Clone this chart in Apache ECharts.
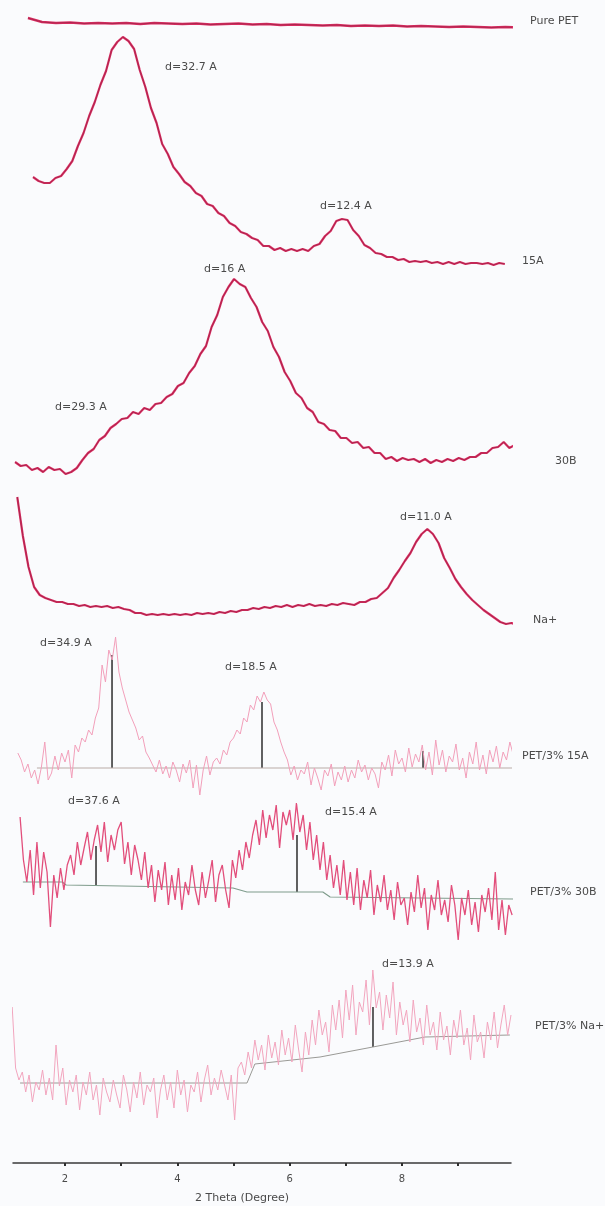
<!DOCTYPE html>
<html>
<head>
<meta charset="utf-8">
<script src="https://cdn.jsdelivr.net/npm/echarts@6/dist/echarts.min.js"></script>
<style>
html,body{margin:0;padding:0;background:#fafbfd;}
#chart{width:605px;height:1206px;}
</style>
</head>
<body>
<div id="chart"></div>
<script>
// ---- XRD scans: 2-theta start / step (degrees) and intensities (a.u.) ----
const pureStart = 1.34, pureStep = 0.25;
const purePET = [22, 18, 17, 17.5, 16.5, 17, 16.5, 17, 16, 17,
  16.5, 16, 16.5, 15.5, 16, 16.5, 15.5, 16, 15, 15.5,
  15, 14.5, 15, 14, 14.5, 14, 14.5, 13.5, 14, 13.5,
  13, 13.5, 13, 12.5, 13, 12.5];

const c15aStart = 1.43, c15aStep = 0.1;
const clay15A = [103, 99, 97, 97, 102, 104, 111, 119, 134, 147,
  164, 178, 195, 209, 230, 238, 243, 239, 231, 210,
  193, 172, 157, 136, 126, 113, 106, 98, 94, 87,
  84, 76, 74, 67, 64, 57, 54, 48, 46, 42,
  40, 34, 34, 30, 32, 29, 31, 29, 31, 29,
  34, 36, 44, 49, 59, 61, 60, 50, 44, 35,
  32, 27, 26, 23, 23, 20, 21, 18, 19, 18,
  19, 17, 18, 16, 18, 16, 18, 16, 17, 17,
  16, 17, 15, 17, 16];

const c30bStart = 1.11, c30bStep = 0.1;
const clay30B = [28, 24, 25, 20, 22, 18, 23, 20, 21, 16,
  18, 22, 30, 37, 41, 50, 54, 62, 66, 71,
  72, 78, 76, 82, 80, 86, 87, 93, 96, 104,
  107, 117, 124, 136, 144, 163, 175, 193, 203, 211,
  206, 203, 192, 183, 168, 159, 143, 133, 118, 109,
  97, 92, 82, 78, 68, 66, 60, 59, 52, 52,
  47, 48, 42, 43, 37, 37, 31, 33, 29, 32,
  30, 31, 28, 31, 27, 30, 28, 31, 29, 32,
  30, 33, 33, 37, 37, 42, 43, 48, 42, 45,
  38, 39, 34, 34, 31];

const cNaStart = 1.15, cNaStep = 0.1;
const clayNa = [143, 104, 73, 53, 45, 42, 40, 38, 38, 36,
  36, 34, 35, 33, 34, 33, 34, 32, 33, 31,
  30, 27, 27, 25, 26, 25, 26, 25, 26, 25,
  26, 25, 27, 26, 27, 26, 28, 27, 29, 28,
  30, 30, 32, 31, 33, 32, 34, 33, 35, 33,
  35, 34, 36, 34, 35, 34, 36, 35, 37, 36,
  35, 38, 38, 41, 42, 47, 52, 62, 70, 79,
  87, 98, 106, 111, 106, 97, 82, 72, 61, 53,
  46, 40, 35, 30, 26, 22, 18, 16, 17, 15];

const n15aStart = 1.16, n15aStep = 0.06;
const nano15A = [47, 40, 28, 36, 22, 30, 16, 33, 58, 20,
  27, 44, 30, 47, 38, 50, 22, 55, 48, 62,
  58, 70, 65, 82, 92, 135, 118, 150, 140, 163,
  128, 112, 100, 88, 80, 72, 60, 64, 48, 42,
  35, 28, 40, 26, 34, 22, 38, 30, 18, 36,
  27, 40, 12, 35, 5, 30, 44, 25, 38, 42,
  36, 50, 45, 58, 62, 70, 66, 82, 78, 95,
  90, 104, 98, 108, 100, 96, 78, 70, 58, 48,
  40, 25, 34, 20, 30, 26, 38, 15, 32, 22,
  10, 30, 24, 36, 14, 28, 20, 34, 18, 30,
  22, 40, 28, 35, 20, 32, 26, 12, 38, 30,
  45, 24, 50, 36, 42, 28, 52, 33, 46, 38,
  55, 30, 48, 25, 60, 35, 50, 28, 44, 38,
  56, 30, 42, 22, 48, 36, 58, 30, 45, 26,
  50, 38, 54, 32, 48, 40, 58, 45];

const n30bStart = 1.20, n30bStep = 0.06;
const nano30B = [143, 100, 78, 110, 65, 118, 72, 108, 88, 33,
  85, 62, 92, 70, 95, 105, 85, 118, 95, 112,
  128, 100, 120, 135, 108, 138, 98, 125, 110, 130,
  138, 96, 118, 85, 115, 100, 80, 108, 72, 95,
  58, 90, 70, 98, 55, 85, 60, 92, 50, 78,
  65, 95, 70, 55, 88, 62, 80, 100, 58, 85,
  95, 70, 52, 100, 82, 110, 90, 118, 102, 125,
  140, 115, 150, 122, 145, 130, 155, 112, 148, 135,
  150, 120, 157, 128, 145, 110, 138, 100, 125, 90,
  118, 80, 105, 72, 95, 65, 100, 60, 88, 55,
  92, 50, 80, 62, 90, 45, 75, 58, 85, 50,
  70, 40, 78, 55, 62, 35, 68, 48, 85, 52,
  72, 30, 65, 50, 80, 45, 60, 38, 75, 55,
  20, 62, 45, 70, 35, 58, 28, 65, 48, 72,
  40, 88, 30, 60, 25, 55, 45];

const nNaStart = 1.06, nNaStep = 0.06;
const nanoNa = [123, 62, 50, 58, 38, 55, 28, 48, 40, 60,
  35, 52, 30, 85, 44, 62, 25, 50, 38, 55,
  20, 48, 35, 58, 30, 45, 15, 52, 38, 28,
  50, 35, 22, 55, 40, 18, 48, 32, 58, 25,
  45, 38, 52, 12, 40, 55, 30, 48, 22, 60,
  35, 50, 18, 45, 38, 58, 28, 50, 65, 35,
  52, 40, 60, 45, 30, 55, 10, 62, 68, 55,
  78, 62, 90, 70, 85, 60, 95, 72, 88, 65,
  100, 75, 92, 68, 105, 80, 58, 98, 75, 110,
  85, 120, 95, 108, 78, 125, 100, 130, 92, 140,
  110, 145, 95, 128, 118, 150, 105, 160, 122, 138,
  100, 135, 112, 148, 95, 128, 105, 120, 88, 130,
  98, 112, 85, 125, 95, 108, 80, 118, 90, 104,
  75, 110, 92, 120, 85, 102, 70, 115, 88, 98,
  72, 108, 90, 118, 82, 105, 125, 95, 115];

// fitted backgrounds [2θ, intensity]
const bg15A = [[1.50, 32], [10.01, 32]];
const bg30B = [[1.25, 78], [1.95, 78], [2.02, 75], [4.99, 72], [5.24, 68], [6.59, 68], [6.72, 63], [9.99, 61]];
const bgNa = [[1.20, 47], [5.24, 47], [5.38, 66], [6.54, 73], [7.48, 83], [8.41, 93], [9.92, 95]];

// peak sticks [2θ, background, peak top]
const sticks15A = [[2.837, 32, 145], [5.507, 32, 98], [8.374, 32, 49]];
const sticks30B = [[2.552, 75, 114], [6.130, 68, 125]];
const sticksNa = [[7.483, 83, 123]];

// axis ticks
const tickLabels = [2, 4, 6, 8];
const tickMarks = [2, 3, 4, 5, 6, 7, 8, 9];

function scan(start, step, values) {
  return values.map((v, i) => [+(start + i * step).toFixed(3), v]);
}

// ---- layout ----
const X_MIN = 1.074, X_MAX = 9.94;
const PLOT_LEFT = 13, PLOT_WIDTH = 498;
const panels = [
  { top: 0, height: 40 },     // Pure PET
  { top: 20, height: 260 },   // 15A
  { top: 260, height: 230 },  // 30B
  { top: 480, height: 160 },  // Na+
  { top: 620, height: 180 },  // PET/3% 15A
  { top: 780, height: 180 },  // PET/3% 30B
  { top: 950, height: 180 },  // PET/3% Na+
  { top: 1100, height: 63 }   // 2θ axis
];

const TEXT = '#4a4a4a';
const CRIMSON = '#dc2d62';
const CORE = '#5c1b2c';

const grid = panels.map(p => ({ left: PLOT_LEFT, width: PLOT_WIDTH, top: p.top, height: p.height, containLabel: false }));
const xAxis = panels.map((p, i) => {
  const last = i === panels.length - 1;
  return {
    type: 'value', gridIndex: i, min: X_MIN, max: X_MAX, show: last,
    splitLine: { show: false },
    axisLine: { show: last, lineStyle: { color: '#3a3a3a', width: 1.5 } },
    axisTick: { show: last, customValues: tickMarks, length: 3, inside: false, lineStyle: { color: '#2e2e2e', width: 2 } },
    axisLabel: { show: last, customValues: tickLabels, color: TEXT, fontSize: 10, margin: 11, fontFamily: 'DejaVu Sans' }
  };
});
const yAxis = panels.map((p, i) => ({ type: 'value', gridIndex: i, min: 0, max: p.height, show: false }));

function trace(idx, data, color, width, opacity) {
  return {
    type: 'line', xAxisIndex: idx, yAxisIndex: idx, data, showSymbol: false, clip: false,
    silent: true, animation: false,
    lineStyle: { color, width, opacity: opacity == null ? 1 : opacity }
  };
}
function sticks(idx, data) {
  return {
    type: 'custom', xAxisIndex: idx, yAxisIndex: idx, data, silent: true, animation: false,
    renderItem: (params, api) => {
      const a = api.coord([api.value(0), api.value(1)]);
      const b = api.coord([api.value(0), api.value(2)]);
      return { type: 'line', shape: { x1: a[0], y1: a[1], x2: b[0], y2: b[1] }, style: { stroke: '#3a3a3a', lineWidth: 1.6 } };
    }
  };
}

const pure = scan(pureStart, pureStep, purePET);
const c15 = scan(c15aStart, c15aStep, clay15A);
const c30 = scan(c30bStart, c30bStep, clay30B);
const cNa = scan(cNaStart, cNaStep, clayNa);

const series = [
  trace(0, pure, CRIMSON, 2.4), trace(0, pure, CORE, 0.7, 0.55),
  trace(1, c15, CRIMSON, 2.2), trace(1, c15, CORE, 0.7, 0.55),
  trace(2, c30, CRIMSON, 2.2), trace(2, c30, CORE, 0.7, 0.55),
  trace(3, cNa, CRIMSON, 2.2), trace(3, cNa, CORE, 0.7, 0.55),
  trace(4, bg15A, '#b9aba6', 1),
  trace(4, scan(n15aStart, n15aStep, nano15A), '#f29fba', 1),
  sticks(4, sticks15A),
  trace(5, bg30B, '#7f9c8c', 1.2),
  trace(5, scan(n30bStart, n30bStep, nano30B), '#e24e7b', 1.3),
  sticks(5, sticks30B),
  trace(6, bgNa, '#9a9a96', 1),
  trace(6, scan(nNaStart, nNaStep, nanoNa), '#f2a5be', 1),
  sticks(6, sticksNa)
];

// annotations and sample names
const notes = [
  ['Pure PET', 530, 22], ['d=32.7 A', 165, 68], ['d=12.4 A', 320, 207], ['15A', 522, 262],
  ['d=16 A', 204, 270], ['d=29.3 A', 55, 408], ['30B', 555, 462],
  ['d=11.0 A', 400, 518], ['Na+', 533, 621],
  ['d=34.9 A', 40, 644], ['d=18.5 A', 225, 668], ['PET/3% 15A', 522, 757],
  ['d=37.6 A', 68, 802], ['d=15.4 A', 325, 813], ['PET/3% 30B', 530, 893],
  ['d=13.9 A', 382, 965], ['PET/3% Na+', 535, 1027],
  ['2 Theta (Degree)', 195, 1199]
];
const graphic = notes.map(([t, x, y]) => ({
  type: 'text', left: x, top: y - 6, silent: true,
  style: { text: t, fill: TEXT, font: '11px "DejaVu Sans"' }
}));

const chart = echarts.init(document.getElementById('chart'), null, { renderer: 'canvas' });
chart.setOption({
  backgroundColor: '#fafbfd',
  animation: false,
  grid, xAxis, yAxis, series, graphic
});
</script>
</body>
</html>
